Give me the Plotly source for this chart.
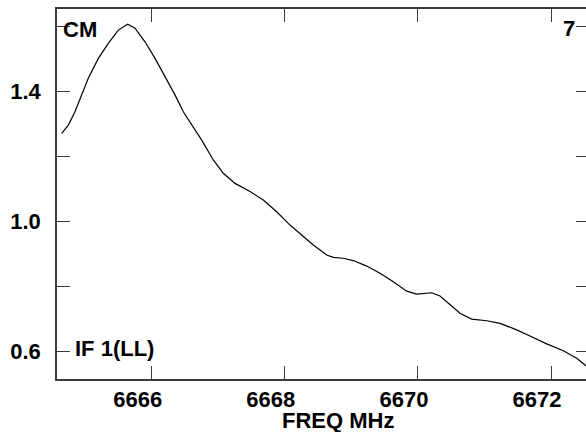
import plotly.graph_objects as go

# Spectrum (frequency in MHz, flux)
freq_mhz = [6664.648, 6664.747, 6664.847, 6664.948, 6665.047, 6665.198, 6665.348,
            6665.498, 6665.639, 6665.749, 6665.899, 6666.050, 6666.200, 6666.350,
            6666.475, 6666.751, 6666.926, 6667.076, 6667.252, 6667.477, 6667.677,
            6667.878, 6668.078, 6668.278, 6668.428, 6668.630, 6668.729, 6668.879,
            6669.029, 6669.231, 6669.431, 6669.630, 6669.832, 6669.982, 6670.207,
            6670.332, 6670.457, 6670.633, 6670.808, 6671.034, 6671.234, 6671.485,
            6671.684, 6671.935, 6672.185, 6672.386, 6672.511, 6672.571]
flux = [1.271, 1.296, 1.337, 1.389, 1.440, 1.501, 1.547,
        1.588, 1.606, 1.594, 1.552, 1.501, 1.445, 1.389,
        1.337, 1.250, 1.189, 1.148, 1.117, 1.092, 1.066,
        1.030, 0.989, 0.953, 0.928, 0.897, 0.890, 0.887,
        0.880, 0.863, 0.841, 0.815, 0.786, 0.777, 0.781,
        0.771, 0.749, 0.718, 0.700, 0.695, 0.687, 0.667,
        0.648, 0.624, 0.603, 0.580, 0.559, 0.549]

x_ticks = [6666, 6668, 6670, 6672]
x_tick_text = ["6666", "6668", "6670", "6672"]
y_ticks = [0.6, 0.8, 1.0, 1.2, 1.4, 1.6]
y_tick_text = ["0.6", "", "1.0", "", "1.4", ""]
x_range = [6664.577, 6672.571]
y_range = [0.5161, 1.6528]

x_title = "FREQ MHz"
label_top_left = "CM"
label_top_right = "7"
label_bottom_left = "IF 1(LL)"

FONT = "Liberation Sans, Arial, Helvetica, sans-serif"
AXC = "#3a3a3a"
W, L = 589, 57  # plot frame runs slightly past the 586 px window on the right


def px2paper_x(px):
    return (px - L) / (W - L)


def px2paper_y(py):
    return (379 - py) / 370


fig = go.Figure()
fig.add_trace(go.Scatter(x=freq_mhz, y=flux, mode="lines",
                         line=dict(color="black", width=1.2),
                         hoverinfo="skip", showlegend=False))

tfont = dict(family=FONT, size=22, color="black", weight="bold")

fig.update_layout(
    width=W, height=432,
    margin=dict(l=L, r=0, t=9, b=53),
    paper_bgcolor="white", plot_bgcolor="white",
    font=tfont,
    xaxis=dict(range=x_range, tickvals=x_ticks, ticktext=x_tick_text,
               ticks="inside", ticklen=13, tickwidth=1.2, tickcolor=AXC,
               showline=True, linecolor=AXC, linewidth=1.5, mirror="ticks",
               showgrid=False, zeroline=False, ticklabelshift=-14,
               automargin=False, tickfont=tfont),
    yaxis=dict(range=y_range, tickvals=y_ticks, ticktext=y_tick_text,
               ticks="inside", ticklen=13, tickwidth=1.2, tickcolor=AXC,
               showline=True, linecolor=AXC, linewidth=1.5, mirror="ticks",
               showgrid=False, zeroline=False, ticklabelstandoff=10,
               automargin=False, tickfont=tfont),
    annotations=[
        dict(text=label_top_left, xref="paper", yref="paper",
             x=px2paper_x(61), y=px2paper_y(29.5),
             xanchor="left", yanchor="middle", showarrow=False, font=tfont),
        dict(text=label_top_right, xref="paper", yref="paper",
             x=px2paper_x(568.5), y=px2paper_y(28.7),
             xanchor="center", yanchor="middle", showarrow=False, font=tfont),
        dict(text=label_bottom_left, xref="paper", yref="paper",
             x=px2paper_x(114.5), y=px2paper_y(348.5),
             xanchor="center", yanchor="middle", showarrow=False, font=tfont),
        dict(text=x_title, xref="paper", yref="paper",
             x=px2paper_x(338), y=px2paper_y(420.5),
             xanchor="center", yanchor="middle", showarrow=False, font=tfont),
    ],
)

fig.write_html(
    "out.html",
    config={"displayModeBar": False},
    post_script="document.body.style.margin='0';document.body.style.overflow='hidden';",
)
